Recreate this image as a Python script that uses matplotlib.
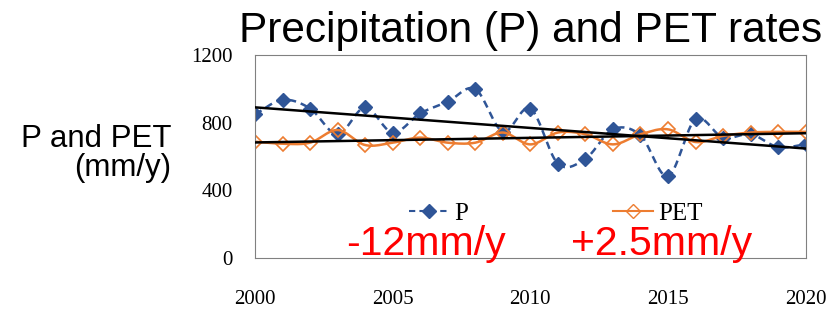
import numpy as np
import matplotlib
matplotlib.use("Agg")
import matplotlib.pyplot as plt

years = list(range(2000, 2021))
p_vals = [849, 934, 883, 731, 889, 741, 854, 923, 998, 747, 883,
          558, 586, 760, 725, 483, 820, 711, 731, 655, 671]
pet_vals = [687, 675, 681, 756, 667, 681, 711, 681, 681, 741, 671,
            741, 731, 671, 731, 760, 685, 721, 741, 745, 745]
y_ticks = [0, 400, 800, 1200]
x_ticks = [2000, 2005, 2010, 2015, 2020]


def smooth(x, y, n=20):
    # catmull-rom curve through the points, like excel's smoothed line
    x = np.asarray(x, float)
    y = np.asarray(y, float)
    px = np.concatenate([[2 * x[0] - x[1]], x, [2 * x[-1] - x[-2]]])
    py = np.concatenate([[2 * y[0] - y[1]], y, [2 * y[-1] - y[-2]]])
    xs, ys = [], []
    t = np.linspace(0, 1, n, endpoint=False)
    for i in range(1, len(px) - 2):
        for arr, out in ((px, xs), (py, ys)):
            p0, p1, p2, p3 = arr[i - 1], arr[i], arr[i + 1], arr[i + 2]
            out.extend(0.5 * (2 * p1 + (-p0 + p2) * t
                              + (2 * p0 - 5 * p1 + 4 * p2 - p3) * t ** 2
                              + (-p0 + 3 * p1 - 3 * p2 + p3) * t ** 3))
    xs.append(x[-1])
    ys.append(y[-1])
    return xs, ys


blue = "#2F5597"
orange = "#ED7D31"
ms = 7.5

fig = plt.figure(figsize=(8.28, 3.10), dpi=100)
ax = fig.add_axes([0.308, 0.168, 0.665, 0.655])

sx, sy = smooth(years, p_vals)
ax.plot(sx, sy, color=blue, lw=1.8, ls=(0, (3, 2)))
ax.plot(years, p_vals, ls="none", marker="D", ms=ms, color=blue)

sx, sy = smooth(years, pet_vals)
ax.plot(sx, sy, color=orange, lw=1.8)
ax.plot(years, pet_vals, ls="none", marker="D", ms=ms, mfc="none",
        mec=orange, mew=1.2)

# linear trends
yr = np.array(years)
for vals in (p_vals, pet_vals):
    k, b = np.polyfit(yr, vals, 1)
    ax.plot([yr[0], yr[-1]], [k * yr[0] + b, k * yr[-1] + b],
            color="black", lw=1.8, zorder=5)

# legend entries
h1, = ax.plot([], [], color=blue, lw=1.5, ls=(0, (3, 2)), marker="D",
              ms=ms)
h2, = ax.plot([], [], color=orange, lw=1.5, marker="D", ms=ms,
              mfc="none", mec=orange)
ax.legend([h1, h2], ["P", "PET"], ncol=2, loc="center",
          bbox_to_anchor=(0.546, 0.218), frameon=False,
          columnspacing=5.8, handlelength=1.6, handletextpad=0.2,
          borderpad=0, prop={"family": "Liberation Serif", "size": 18})

ax.set_xlim(2000, 2020)
ax.set_ylim(0, 1200)
ax.set_xticks(x_ticks)
ax.set_yticks(y_ticks)
for lab in ax.get_xticklabels() + ax.get_yticklabels():
    lab.set_family("Liberation Serif")
    lab.set_fontsize(15)
ax.tick_params(length=0)
ax.tick_params(axis="x", pad=23)
ax.tick_params(axis="y", pad=16)
for sp in ax.spines.values():
    sp.set_color("#808080")

ax.text(2006.2, 18, "-12mm/y", color="red", fontsize=29.5,
        family="Liberation Sans", ha="center", va="baseline")
ax.text(2014.75, 18, "+2.5mm/y", color="red", fontsize=29.5,
        family="Liberation Sans", ha="center", va="baseline")

fig.text(0.641, 0.865, "Precipitation (P) and PET rates", fontsize=30.5,
         family="Liberation Sans", ha="center", va="baseline")
fig.text(0.207, 0.505, "P and PET\n(mm/y)", fontsize=22.5,
         family="Liberation Sans", ha="right", va="center",
         multialignment="right", linespacing=0.95)

fig.savefig("out.png", dpi=100)
